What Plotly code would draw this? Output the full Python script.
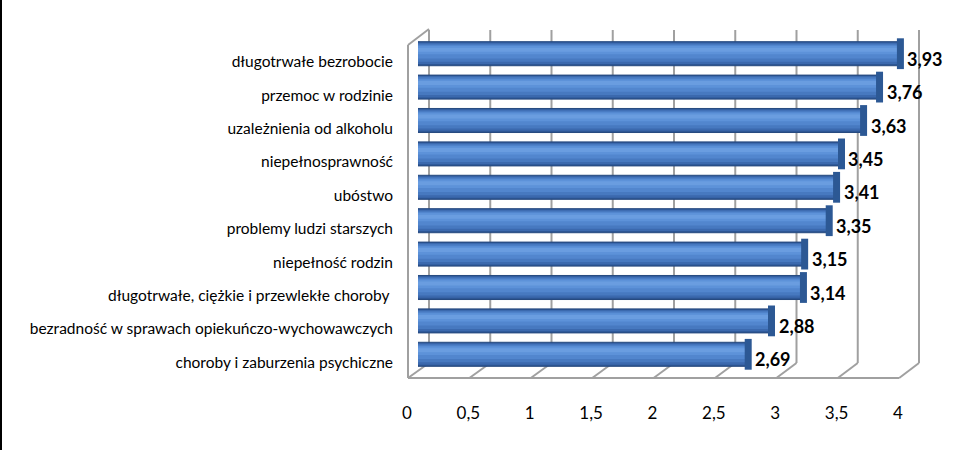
import plotly.graph_objects as go

# ---- data (bottom to top) ----
categories = [
    "choroby i zaburzenia psychiczne",
    "bezradność w sprawach opiekuńczo-wychowawczych",
    "długotrwałe, ciężkie i przewlekłe choroby ",
    "niepełność rodzin",
    "problemy ludzi starszych",
    "ubóstwo",
    "niepełnosprawność",
    "uzależnienia od alkoholu",
    "przemoc w rodzinie",
    "długotrwałe bezrobocie",
]
values = [2.69, 2.88, 3.14, 3.15, 3.35, 3.41, 3.45, 3.63, 3.76, 3.93]
tick_vals = [0, 0.5, 1, 1.5, 2, 2.5, 3, 3.5, 4]
tick_text = ["0", "0,5", "1", "1,5", "2", "2,5", "3", "3,5", "4"]

W, H = 959, 450
L, R, T, B = 418, 50, 37, 79
pw, ph = W - L - R, H - T - B
FONT = "Lato"


def px(xp):
    return (xp - L) / pw


def py(yp):
    return (H - B - yp) / ph


fig = go.Figure()

# cylinder-like bars built from overlaid layers (offset, width, colour)
layers = [
    (-0.36, 0.72, "#2D5694"),
    (-0.31, 0.64, "#3B69AE"),
    (-0.24, 0.54, "#4779C0"),
    (-0.14, 0.40, "#5286CE"),
    (-0.02, 0.25, "#5D92D9"),
    (0.06, 0.12, "#6A9DE0"),
]
for k, (off, wd, col) in enumerate(layers):
    fig.add_trace(go.Bar(
        y=categories, x=values, orientation="h", width=wd, offset=off,
        marker=dict(color=col,
                    line=dict(color="#26497F", width=1) if k == 0 else dict(width=0)),
        hoverinfo="skip"))
# end caps
fig.add_trace(go.Scatter(y=categories, x=values, mode="markers",
                         marker=dict(symbol="line-ns", size=22,
                                     line=dict(color="#2C5894", width=7)),
                         hoverinfo="skip"))

# data labels
for c, v in zip(categories, values):
    fig.add_annotation(x=v, y=c, xref="x", yref="y", text=f"{v:.2f}".replace(".", ","),
                       showarrow=False, xanchor="left", xshift=5, yshift=-5,
                       font=dict(family=FONT, size=18, color="#000000", weight="bold"))

# 3D frame (decoration)
gray = "#A0A0A0"
shapes = []
back_x0, back_step = 429, 61.25
front_x0, front_step = 408, 61.4
back_top, back_bot, front_bot = 30, 363, 378
for i, _ in enumerate(tick_vals):
    bx = back_x0 + i * back_step
    fx = front_x0 + i * front_step
    shapes.append(dict(type="line", xref="paper", yref="paper", x0=px(bx), x1=px(bx),
                       y0=py(back_top), y1=py(back_bot), line=dict(color=gray, width=2),
                       layer="below"))
    shapes.append(dict(type="line", xref="paper", yref="paper", x0=px(bx), x1=px(fx),
                       y0=py(back_bot), y1=py(front_bot), line=dict(color=gray, width=2),
                       layer="below"))
# left wall
shapes.append(dict(type="line", xref="paper", yref="paper", x0=px(429), x1=px(408),
                   y0=py(29), y1=py(45), line=dict(color=gray, width=2), layer="below"))
shapes.append(dict(type="line", xref="paper", yref="paper", x0=px(408), x1=px(408),
                   y0=py(45), y1=py(front_bot), line=dict(color=gray, width=2), layer="below"))
# floor front edge
shapes.append(dict(type="line", xref="paper", yref="paper", x0=px(408),
                   x1=px(front_x0 + 8 * front_step),
                   y0=py(front_bot), y1=py(front_bot), line=dict(color=gray, width=2),
                   layer="below"))
# left black border of the image
shapes.append(dict(type="line", xref="paper", yref="paper", x0=px(1), x1=px(1),
                   y0=py(0), y1=py(H), line=dict(color="#000000", width=2)))

fig.update_layout(
    width=W, height=H,
    margin=dict(l=L, r=R, t=T, b=B, pad=0),
    paper_bgcolor="white", plot_bgcolor="white",
    barmode="overlay",
    showlegend=False,
    shapes=shapes,
    xaxis=dict(range=[0, 4], tickvals=tick_vals, ticktext=tick_text, showgrid=False,
               zeroline=False, showline=False, ticks="", ticklabelshift=-11,
               ticklabelstandoff=30,
               tickfont=dict(family=FONT, size=17, color="#000000"), fixedrange=True),
    yaxis=dict(type="category", categoryorder="array", categoryarray=categories,
               range=[-0.5, 9.5], showgrid=False, zeroline=False, showline=False,
               ticks="", ticklabelshift=8, ticklabelstandoff=24,
               tickfont=dict(family=FONT, size=15.5, color="#000000"), fixedrange=True),
)

fig.write_html("out.html", config={"displayModeBar": False},
               post_script="document.body.style.margin='0px';")
